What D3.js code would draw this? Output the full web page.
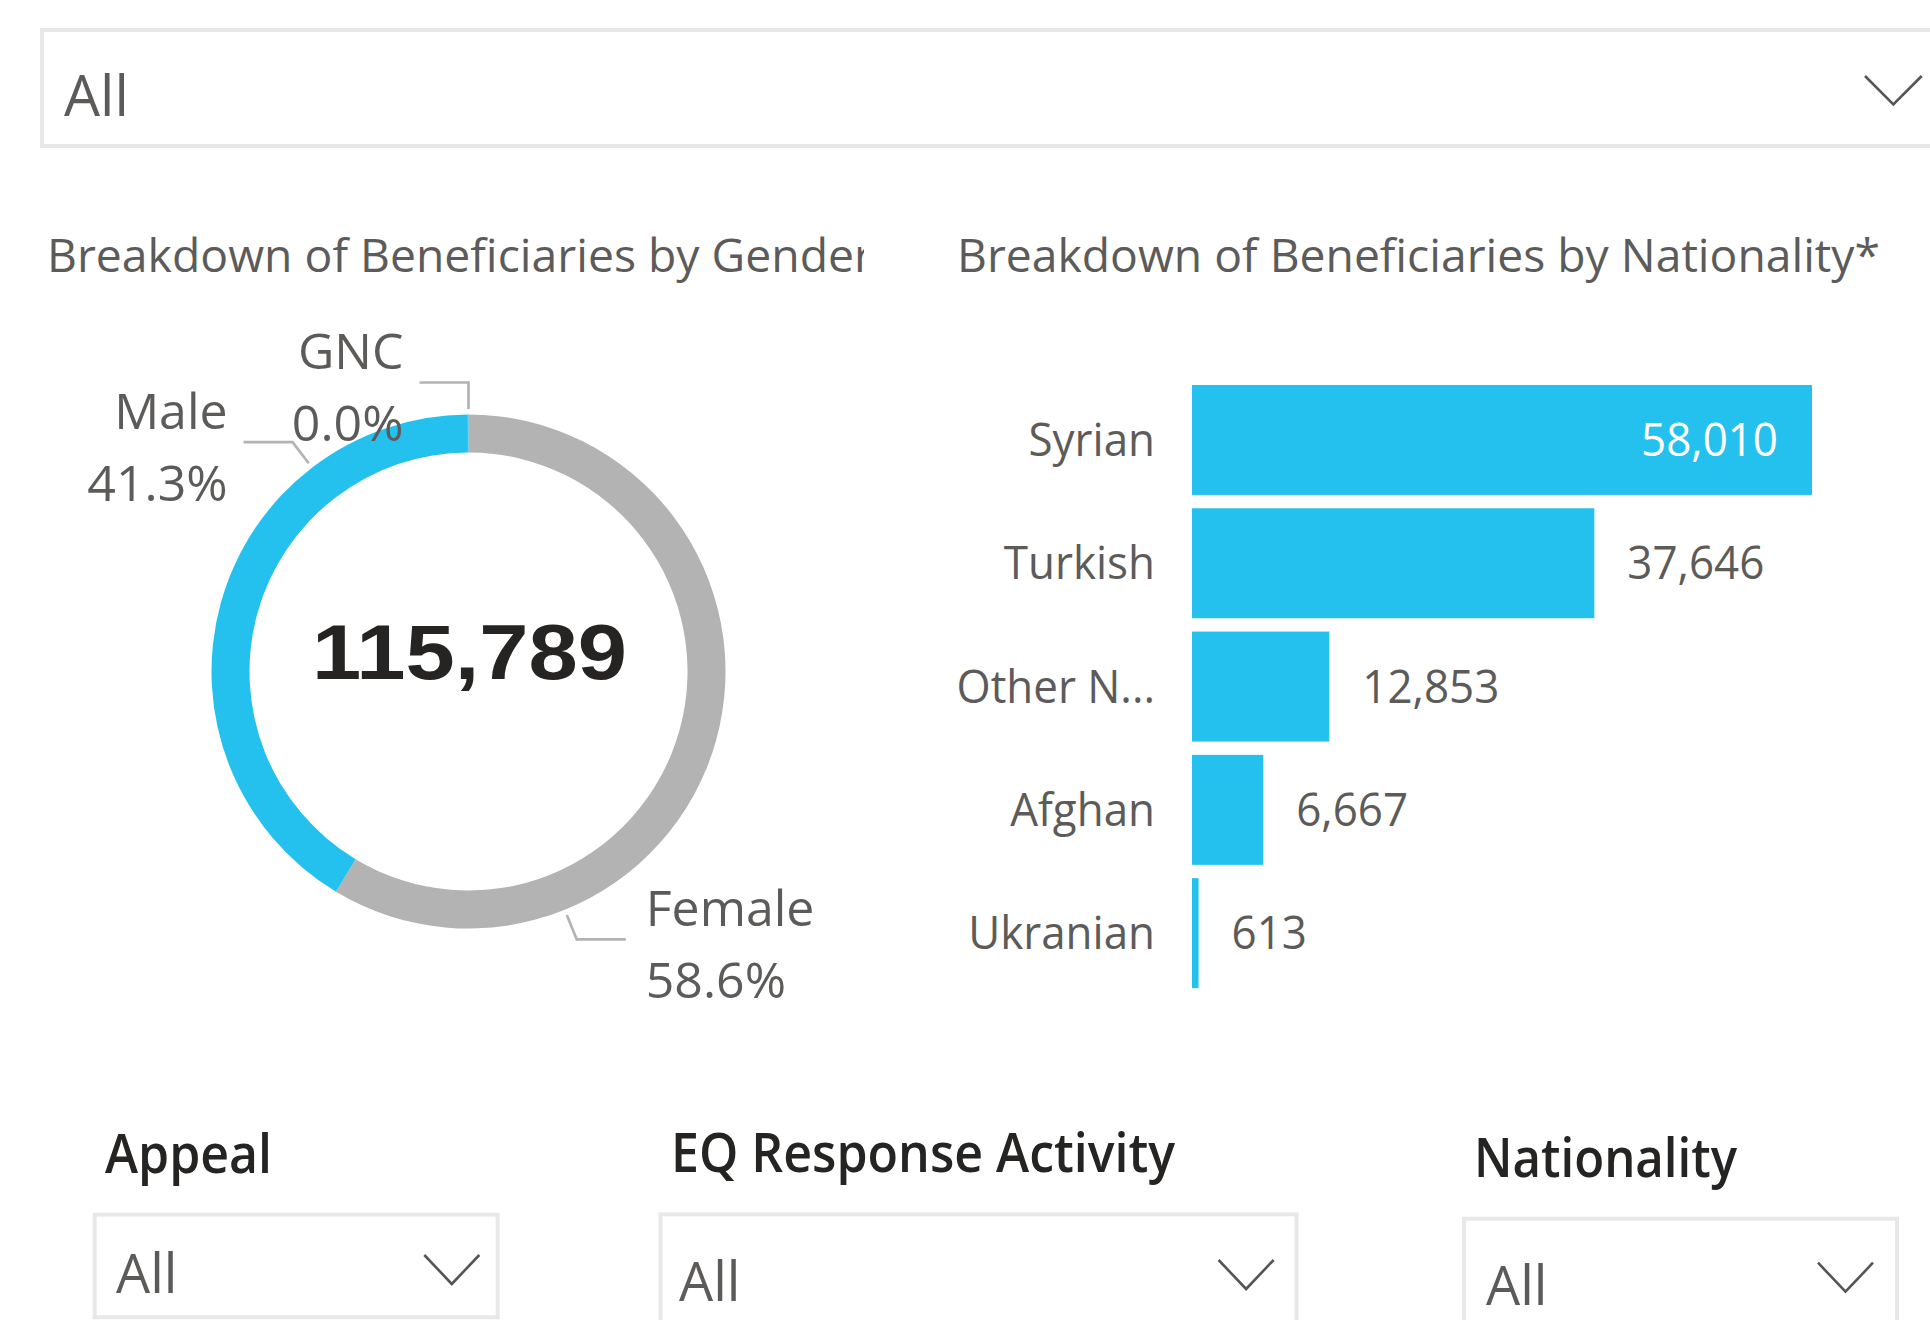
<!DOCTYPE html>
<html>
<head>
<meta charset="utf-8">
<script src="https://cdnjs.cloudflare.com/ajax/libs/d3/7.8.5/d3.min.js"></script>
<style>
    html, body { margin: 0; padding: 0; background: #ffffff; overflow: hidden; }
    svg text { font-family: "Open Sans", "Noto Sans", sans-serif; }
</style>
</head>
<body>
<div id="report"></div>
<script>
// Gender donut
const genderCats = ["Female", "Male", "GNC"];
const genderPct = [58.62, 41.34, 0.04];
const totalBeneficiaries = 115789;

// Nationality bars
const nationalities = ["Syrian", "Turkish", "Other N...", "Afghan", "Ukranian"];
const nationalityCounts = [58010, 37646, 12853, 6667, 613];

// Slicers
const slicerTitles = ["Appeal", "EQ Response Activity", "Nationality"];
const slicerValue = "All";

const width = 1930;
const height = 1320;

const blue = "#25c1ee";
const grey = "#b3b3b3";
const textGrey = "#5d5b59";
const dark = "#252423";

// Open Sans runs a bit wider than Segoe UI, squeeze it to match
const squeezeK = 0.955;
function squeeze(sel, k) {
    sel.each(function () {
        const w = this.getComputedTextLength();
        d3.select(this)
            .attr("textLength", w * (k || squeezeK))
            .attr("lengthAdjust", "spacingAndGlyphs");
    });
}

const svg = d3.select("#report").append("svg")
    .attr("width", width)
    .attr("height", height);

svg.append("rect").attr("width", width).attr("height", height).attr("fill", "#fff");

// chevron for the dropdowns
function chevron(g, x, y, w, h) {
    g.append("path")
        .attr("d", d3.line()([[x, y], [x + w / 2, y + h], [x + w, y]]))
        .attr("fill", "none")
        .attr("stroke", "#555")
        .attr("stroke-width", 2.6);
}

// ---- top dropdown ----
const topBox = svg.append("g");
topBox.append("rect")
    .attr("x", 42).attr("y", 30)
    .attr("width", 1920).attr("height", 116)
    .attr("fill", "none")
    .attr("stroke", "#e8e8e8")
    .attr("stroke-width", 4);
topBox.append("text")
    .attr("x", 64).attr("y", 116)
    .attr("fill", textGrey)
    .style("font-size", "57px")
    .text(slicerValue);
chevron(topBox, 1865, 76, 56.7, 28.3);

// ---- gender donut ----
svg.append("clipPath").attr("id", "clipGender")
    .append("rect").attr("x", 0).attr("y", 200).attr("width", 864).attr("height", 100);

svg.append("text")
    .attr("x", 47).attr("y", 272)
    .attr("fill", textGrey)
    .attr("clip-path", "url(#clipGender)")
    .attr("textLength", 826)
    .attr("lengthAdjust", "spacingAndGlyphs")
    .style("font-size", "46px")
    .text("Breakdown of Beneficiaries by Gender");

const cx = 468.5, cy = 671.5;
const outerR = 257, innerR = 219;

const genderData = genderCats.map((c, i) => ({ name: c, pct: genderPct[i] }));
const genderColor = d3.scaleOrdinal().domain(genderCats).range([grey, blue, blue]);

const pie = d3.pie().sort(null).value(d => d.pct);
const arc = d3.arc().innerRadius(innerR).outerRadius(outerR);

const donut = svg.append("g").attr("transform", `translate(${cx},${cy})`);
donut.selectAll("path")
    .data(pie(genderData))
    .enter().append("path")
    .attr("d", arc)
    .attr("fill", d => genderColor(d.data.name));

donut.append("text")
    .attr("x", 1).attr("y", 7)
    .attr("text-anchor", "middle")
    .attr("fill", dark)
    .attr("textLength", 315)
    .attr("lengthAdjust", "spacingAndGlyphs")
    .style("font-family", "'Liberation Sans', Arial, sans-serif")
    .style("font-weight", "bold")
    .style("font-size", "77px")
    .text(d3.format(",")(totalBeneficiaries));

// where Power BI put the leader lines (degrees clockwise from 12 o'clock)
const leaderAngle = { Female: 158, Male: 322.5, GNC: 360 };
const pctFmt = v => v.toFixed(1) + "%";

genderData.forEach(d => {
    const a = leaderAngle[d.name] * Math.PI / 180;
    const p0 = [Math.sin(a) * 262.5, -Math.cos(a) * 262.5];
    const p1 = [Math.sin(a) * 289, -Math.cos(a) * 289];
    const right = Math.sin(a) > 0.001;
    const p2 = [p1[0] + (right ? 49 : -49), p1[1]];

    donut.append("path")
        .attr("d", d3.line()([p0, p1, p2]))
        .attr("fill", "none")
        .attr("stroke", grey)
        .attr("stroke-width", 2.7);

    [d.name, pctFmt(d.pct)].forEach((s, j) => {
        donut.append("text")
            .attr("x", right ? p2[0] + 20 : p2[0] - 16)
            .attr("y", p2[1] - 13.5 + j * 72)
            .attr("text-anchor", right ? "start" : "end")
            .attr("fill", textGrey)
            .style("font-size", "50px")
            .text(s);
    });
});

// ---- nationality bars ----
svg.append("text")
    .attr("x", 957).attr("y", 272)
    .attr("fill", textGrey)
    .attr("textLength", 923)
    .attr("lengthAdjust", "spacingAndGlyphs")
    .style("font-size", "46px")
    .text("Breakdown of Beneficiaries by Nationality*");

const barData = nationalities.map((n, i) => ({ name: n, value: nationalityCounts[i] }));

const x = d3.scaleLinear()
    .domain([0, d3.max(nationalityCounts)])
    .range([1192, 1812]);

const y = d3.scaleBand()
    .domain(nationalities)
    .range([378.3, 994.8])
    .paddingInner(0.108)
    .paddingOuter(0.054);

const bars = svg.append("g");
bars.selectAll("rect")
    .data(barData)
    .enter().append("rect")
    .attr("x", x(0))
    .attr("y", d => y(d.name))
    .attr("width", d => x(d.value) - x(0))
    .attr("height", y.bandwidth())
    .attr("fill", blue);

bars.selectAll(".cat")
    .data(barData)
    .enter().append("text")
    .attr("class", "cat")
    .attr("x", 1155)
    .attr("y", d => y(d.name) + y.bandwidth() / 2 + 16)
    .attr("text-anchor", "end")
    .attr("fill", textGrey)
    .style("font-size", "46px")
    .text(d => d.name)
    .call(squeeze);

const fmt = d3.format(",");
bars.selectAll(".val")
    .data(barData)
    .enter().append("text")
    .attr("class", "val")
    .attr("y", d => y(d.name) + y.bandwidth() / 2 + 16)
    .style("font-size", "46px")
    .text(d => fmt(d.value))
    .each(function (d) {
        const w = this.getComputedTextLength();
        const inside = x(d.value) + 33 + w > x.range()[1];
        d3.select(this)
            .attr("x", inside ? x(d.value) - 34 : x(d.value) + 33)
            .attr("text-anchor", inside ? "end" : "start")
            .attr("fill", inside ? "#ffffff" : textGrey);
    })
    .call(squeeze);

// ---- bottom slicers ----
const slicerLayout = [
    { tx: 105, ty: 1173, tw: 167, bx: 94.7, by: 1214.7, bw: 403, bh: 102.5, ax: 116, ay: 1293, cx: 424.3, cy: 1255 },
    { tx: 671, ty: 1172, tw: 504, bx: 660.5, by: 1214.3, bw: 636, bh: 130, ax: 679, ay: 1301, cx: 1218.6, cy: 1260 },
    { tx: 1474, ty: 1177, tw: 263, bx: 1464, by: 1218.7, bw: 433, bh: 130, ax: 1486, ay: 1305, cx: 1818, cy: 1262.7 }
];

slicerTitles.forEach((t, i) => {
    const L = slicerLayout[i];
    const g = svg.append("g");
    g.append("text")
        .attr("x", L.tx).attr("y", L.ty)
        .attr("fill", dark)
        .attr("textLength", L.tw)
        .attr("lengthAdjust", "spacingAndGlyphs")
        .style("font-size", "54px")
        .style("font-weight", 600)
        .text(t);
    g.append("rect")
        .attr("x", L.bx).attr("y", L.by)
        .attr("width", L.bw).attr("height", L.bh)
        .attr("fill", "none")
        .attr("stroke", "#e8e8e8")
        .attr("stroke-width", 4);
    g.append("text")
        .attr("x", L.ax).attr("y", L.ay)
        .attr("fill", textGrey)
        .style("font-size", "54px")
        .text(slicerValue);
    chevron(g, L.cx, L.cy, 55, 29);
});
</script>
</body>
</html>
